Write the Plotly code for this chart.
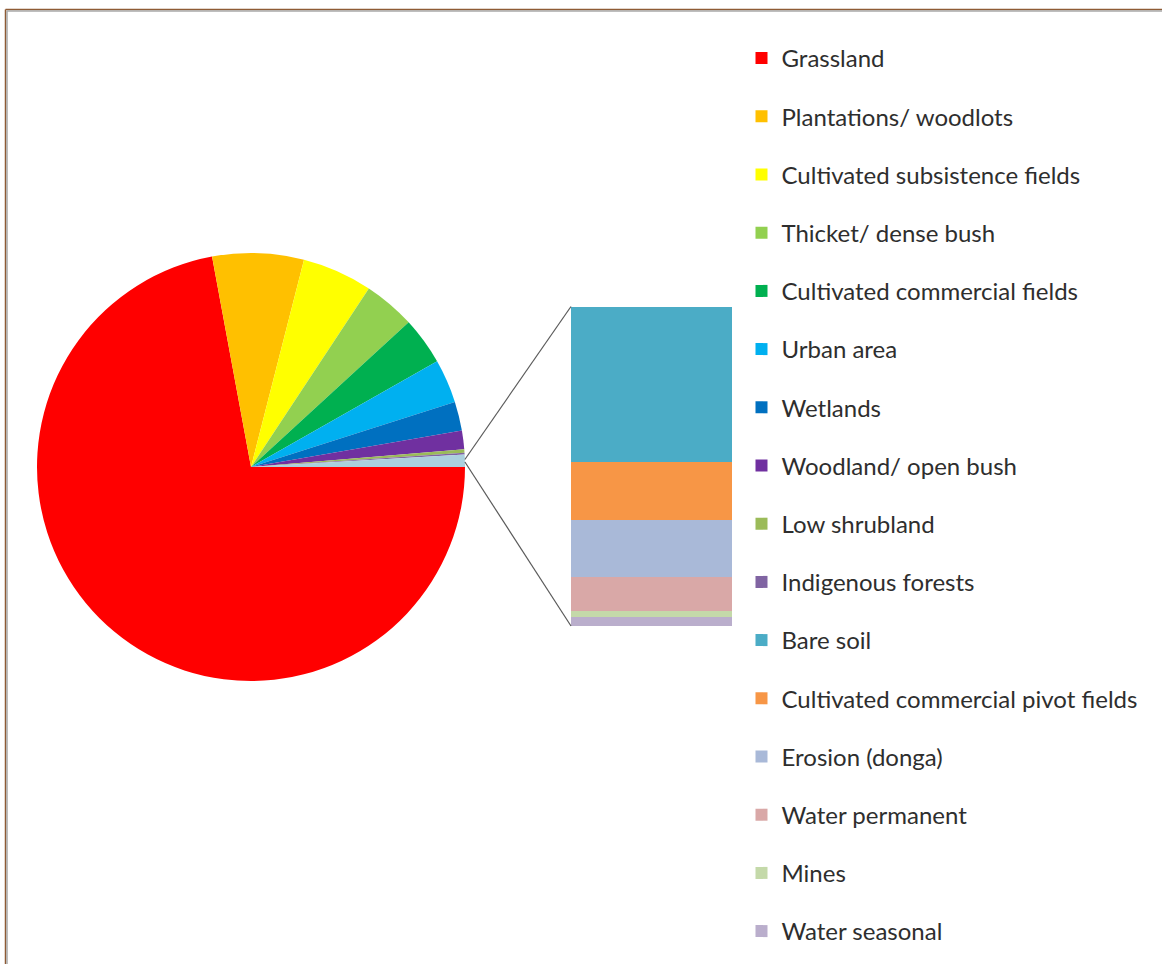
import math
import plotly.graph_objects as go

W, H = 1162, 964

# ---------------- data ----------------
pie_labels = ["Grassland", "Plantations/ woodlots", "Cultivated subsistence fields",
              "Thicket/ dense bush", "Cultivated commercial fields", "Urban area",
              "Wetlands", "Woodland/ open bush", "Low shrubland", "Indigenous forests"]
pie_values = [72.1, 6.9, 5.3, 3.9, 3.6, 3.3, 2.2, 1.4, 0.25, 0.14]
pie_colors = ["#FF0000", "#FFC000", "#FFFF00", "#92D050", "#00B050", "#00B0F0",
              "#0070C0", "#7030A0", "#9BBB59", "#8064A2"]

bar_labels = ["Bare soil", "Cultivated commercial pivot fields", "Erosion (donga)",
              "Water permanent", "Mines", "Water seasonal"]
bar_values = [0.45, 0.17, 0.165, 0.10, 0.018, 0.027]
bar_colors = ["#4BACC6", "#F79646", "#A9B9D8", "#D9A8A7", "#C4D9A9", "#BAAECC"]
other_label = "Other"
other_color = "#ABD0DE"

# ---------------- layout constants (pixels) ----------------
PIE_CX, PIE_CY, PIE_R = 251, 467, 214
BAR_X0, BAR_X1, BAR_TOP, BAR_BOT = 571, 732, 306.5, 626
ROTATION = 90
FONT = "Lato"
LEGEND_FONT_SIZE = 24
LEGEND_GAP = 24

other_value = sum(bar_values)
all_pie_values = pie_values + [other_value]
pie_total = sum(all_pie_values)

pie_dom_x = [(PIE_CX - PIE_R) / W, (PIE_CX + PIE_R) / W]
pie_dom_y = [1 - (PIE_CY + PIE_R) / H, 1 - (PIE_CY - PIE_R) / H]
bar_dom_x = [BAR_X0 / W, BAR_X1 / W]
bar_dom_y = [1 - BAR_BOT / H, 1 - BAR_TOP / H]

fig = go.Figure()

fig.add_trace(go.Pie(
    labels=pie_labels + [other_label],
    values=all_pie_values,
    marker=dict(colors=pie_colors + [other_color], line=dict(width=0)),
    sort=False, direction="clockwise", rotation=ROTATION,
    textinfo="none", hoverinfo="label+percent",
    domain=dict(x=pie_dom_x, y=pie_dom_y),
    showlegend=False,
))

# legend entries for pie categories
for i, (lab, col) in enumerate(zip(pie_labels, pie_colors)):
    fig.add_trace(go.Scatter(
        x=[None], y=[None], mode="markers",
        marker=dict(symbol="square", size=12, color=col),
        name=lab, legendgroup=lab, legendrank=i + 1,
    ))

# stacked bar (bottom segment first)
n_pie = len(pie_labels)
for j in reversed(range(len(bar_labels))):
    fig.add_trace(go.Bar(
        x=[other_label], y=[bar_values[j]],
        marker=dict(color=bar_colors[j], line=dict(width=0)),
        name=bar_labels[j], legendgroup=bar_labels[j],
        legendrank=n_pie + j + 1,
    ))

# connector lines from the "Other" slice to the bar corners
other_deg = other_value / pie_total * 360
a_start = ROTATION - other_deg

def pie_pt(a_deg):
    a = math.radians(a_deg)
    px = PIE_CX + PIE_R * math.sin(a)
    py = PIE_CY - PIE_R * math.cos(a)
    return px / W, 1 - py / H

p_top = pie_pt(a_start + other_deg * 0.4)
p_bot = pie_pt(a_start + other_deg * 0.6)
shapes = [
    dict(type="line", xref="paper", yref="paper", x0=p_top[0], y0=p_top[1],
         x1=bar_dom_x[0], y1=bar_dom_y[1], line=dict(color="#5A5A5A", width=1.2)),
    dict(type="line", xref="paper", yref="paper", x0=p_bot[0], y0=p_bot[1],
         x1=bar_dom_x[0], y1=bar_dom_y[0], line=dict(color="#5A5A5A", width=1.2)),
    # chart-area frame (cropped)
    dict(type="line", xref="paper", yref="paper", x0=5.5 / W, x1=1.01,
         y0=1 - 9.5 / H, y1=1 - 9.5 / H, line=dict(color="#8E5B35", width=1.5)),
    dict(type="line", xref="paper", yref="paper", x0=7 / W, x1=1.01,
         y0=1 - 11 / H, y1=1 - 11 / H, line=dict(color="#A8A8A8", width=1.5)),
    dict(type="line", xref="paper", yref="paper", x0=5.5 / W, x1=5.5 / W,
         y0=1 - 9.5 / H, y1=-0.01, line=dict(color="#8E5B35", width=1.5)),
    dict(type="line", xref="paper", yref="paper", x0=7 / W, x1=7 / W,
         y0=1 - 11 / H, y1=-0.01, line=dict(color="#A8A8A8", width=1.5)),
]

fig.update_layout(
    width=W, height=H,
    margin=dict(l=0, r=0, t=0, b=0),
    paper_bgcolor="white", plot_bgcolor="rgba(0,0,0,0)",
    barmode="stack", bargap=0,
    xaxis=dict(domain=bar_dom_x, range=[-0.5, 0.5], visible=False, type="category"),
    yaxis=dict(domain=bar_dom_y, range=[0, other_value], visible=False),
    showlegend=True,
    legend=dict(
        x=741.5 / W, xanchor="left", y=1 - 36 / H, yanchor="top",
        traceorder="grouped", tracegroupgap=LEGEND_GAP,
        font=dict(family=FONT, size=LEGEND_FONT_SIZE, color="#2E2E2E"),
        bgcolor="rgba(0,0,0,0)", borderwidth=0,
    ),
    shapes=shapes,
    font=dict(family=FONT),
)

fig.write_html("out.html")
